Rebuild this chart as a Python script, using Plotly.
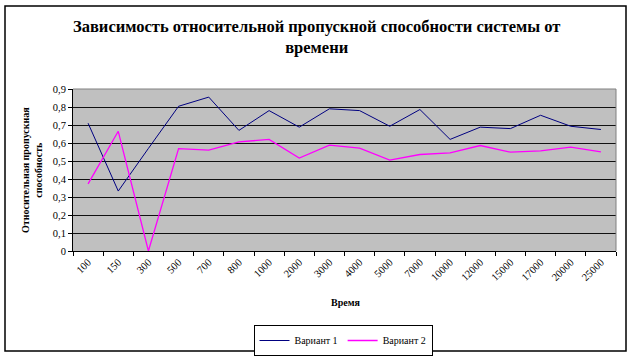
import plotly.graph_objects as go

categories = ["100", "150", "300", "500", "700", "800", "1000", "2000", "3000", "4000",
              "5000", "7000", "10000", "12000", "15000", "17000", "20000", "25000"]
variant1 = [0.71, 0.333, 0.57, 0.804, 0.855, 0.67, 0.78, 0.688, 0.79, 0.78,
            0.693, 0.786, 0.62, 0.688, 0.68, 0.754, 0.693, 0.675]
variant2 = [0.373, 0.665, 0.0, 0.569, 0.56, 0.606, 0.62, 0.516, 0.588, 0.572,
            0.505, 0.536, 0.545, 0.586, 0.549, 0.556, 0.577, 0.551]
series_names = ["Вариант 1", "Вариант 2"]
y_tickvals = [0, 0.1, 0.2, 0.3, 0.4, 0.5, 0.6, 0.7, 0.8, 0.9]
y_ticktext = ["0", "0,1", "0,2", "0,3", "0,4", "0,5", "0,6", "0,7", "0,8", "0,9"]

title_text = "Зависимость относительной пропускной способности системы от<br>времени"
y_title = "Относительная пропускная<br>способность"
x_title = "Время"

SERIF = "Liberation Serif"
L, R, T, B = 73, 616, 89, 251
PW, PH = R - L, B - T

fig = go.Figure()
fig.add_trace(go.Scatter(x=categories, y=variant1, mode="lines", name=series_names[0],
                         line=dict(color="#000080", width=1)))
fig.add_trace(go.Scatter(x=categories, y=variant2, mode="lines", name=series_names[1],
                         line=dict(color="#FF00FF", width=1.3)))

fig.update_layout(
    width=631, height=356,
    margin=dict(l=L, r=631 - R, t=T, b=356 - B, autoexpand=False),
    paper_bgcolor="white",
    plot_bgcolor="#C0C0C0",
    font=dict(family=SERIF, size=10, color="black"),
    showlegend=True,
    legend=dict(orientation="h", x=(343 - L) / PW, xanchor="center",
                y=(B - 325) / PH, yanchor="top",
                bordercolor="black", borderwidth=1, bgcolor="white",
                font=dict(family=SERIF, size=10), itemwidth=30,
                tracegroupgap=0),
    xaxis=dict(type="category", range=[-0.5, len(categories) - 0.5], automargin=False,
               tickson="boundaries", ticks="outside", ticklen=4, tickcolor="black",
               tickangle=-45, showgrid=False, showline=True, linecolor="black",
               linewidth=1, tickfont=dict(family=SERIF, size=10.5), zeroline=False),
    yaxis=dict(range=[0, 0.9], tickvals=y_tickvals, ticktext=y_ticktext, automargin=False,
               ticks="outside", ticklen=4, tickcolor="black", showgrid=True,
               gridcolor="#111111", gridwidth=1, showline=True, linecolor="black",
               linewidth=1, zeroline=False, tickfont=dict(family=SERIF, size=10.5)),
    shapes=[
        dict(type="line", xref="paper", yref="paper", x0=0, x1=1, y0=1, y1=1,
             line=dict(color="#808080", width=1), layer="above"),
        dict(type="line", xref="paper", yref="paper", x0=1, x1=1, y0=0, y1=1,
             line=dict(color="#808080", width=1), layer="above"),
        dict(type="rect", xref="paper", yref="paper",
             x0=(5 - L) / PW, x1=(626 - L) / PW,
             y0=(B - 351) / PH, y1=(B - 6) / PH,
             line=dict(color="black", width=1.5)),
    ],
    annotations=[
        dict(text="<b>" + title_text + "</b>", xref="paper", yref="paper",
             x=(316 - L) / PW, y=(B - 37) / PH, xanchor="center", yanchor="middle",
             showarrow=False, font=dict(family=SERIF, size=16.5)),
        dict(text="<b>" + y_title + "</b>", xref="paper", yref="paper",
             x=(32 - L) / PW, y=0.5, xanchor="center", yanchor="middle",
             textangle=-90, showarrow=False, font=dict(family=SERIF, size=10)),
        dict(text="<b>" + x_title + "</b>", xref="paper", yref="paper",
             x=(345 - L) / PW, y=(B - 302) / PH, xanchor="center", yanchor="middle",
             showarrow=False, font=dict(family=SERIF, size=10)),
    ],
)

fig.write_html("out.html", config={"displayModeBar": False},
               post_script="document.body.style.margin='0';document.body.style.overflow='hidden';")
